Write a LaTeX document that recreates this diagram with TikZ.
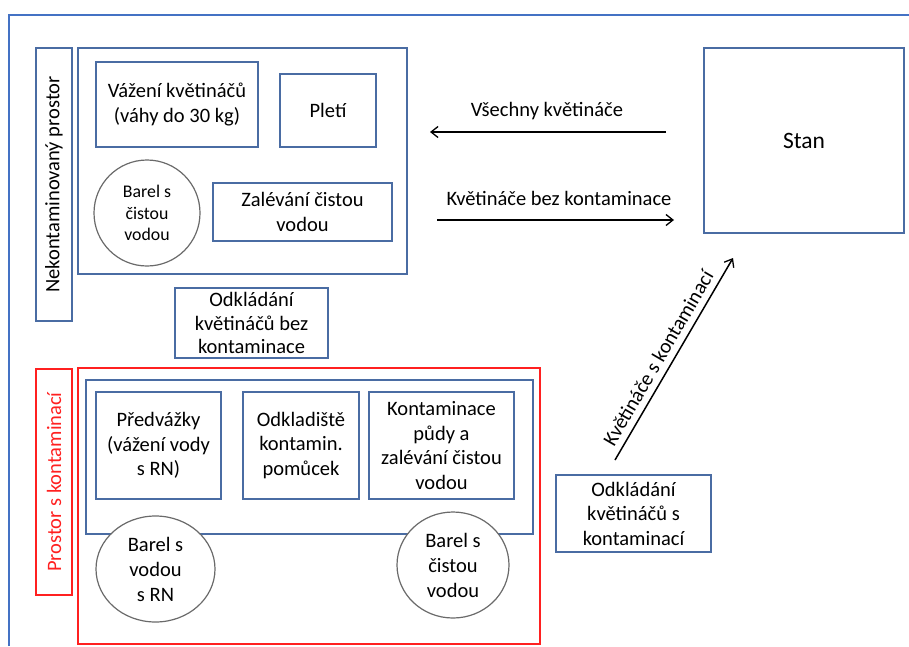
\documentclass[tikz,border=0pt]{standalone}
\usepackage{fontspec}
\setmainfont{Carlito}
\usetikzlibrary{shapes.geometric,arrows.meta}
\definecolor{frameblue}{HTML}{4472C4}
\definecolor{boxblue}{HTML}{4A6CA3}
\definecolor{circgray}{HTML}{6A6A6A}
\definecolor{redline}{HTML}{FF2020}
\tikzset{
  bx/.style={draw=boxblue, line width=1.2pt, rectangle, align=center, inner sep=0pt,
    font=\fontsize{20.5}{24.5}\selectfont},
  rbx/.style={draw=redline, line width=1.2pt, rectangle, inner sep=0pt},
  barrel/.style={draw=circgray, line width=1.2pt, fill=white, ellipse, align=center, inner sep=0pt,
    font=\fontsize{20.5}{25}\selectfont},
  flow/.style={line width=1.5pt, -{Straight Barb[length=7pt,width=11pt,line width=1.3pt]}},
  lbl/.style={font=\fontsize{20.5}{24}\selectfont},
}
\begin{document}
\begin{tikzpicture}[x=1pt,y=-1pt]
\useasboundingbox (0,0) rectangle (909,646);
% outer frame
\draw[frameblue, line width=2pt] (9,646) -- (9,15) -- (909,15);
% non-contaminated area
\node[bx, minimum width=36pt, minimum height=273pt] (nek) at (54,184.5) {};
\node[rotate=90, lbl] (nektxt) at (nek.center) {Nekontaminovaný prostor};
\node[bx, minimum width=329pt, minimum height=226pt] (upper) at (242.5,161) {};
\node[bx, minimum width=162pt, minimum height=85pt] (vaz) at (177,104.5) {Vážení květináčů\\(váhy do 30 kg)};
\node[bx, minimum width=96pt, minimum height=73pt] (plet) at (328,110.5) {Pletí};
\node[barrel, minimum width=106pt, minimum height=106pt, font=\fontsize{17.8}{21.5}\selectfont] (barel1) at (147,213) {Barel s\\čistou\\vodou};
\node[bx, minimum width=179pt, minimum height=58pt] (zal) at (302.5,212) {Zalévání čistou\\vodou};
\node[bx, minimum width=153pt, minimum height=70pt, font=\fontsize{20.5}{23.5}\selectfont] (odkbez) at (251.5,323) {Odkládání\\květináčů bez\\kontaminace};
% contaminated area
\node[rbx, minimum width=36pt, minimum height=226pt] (pros) at (54,482) {};
\node[rotate=90, text=redline, lbl] (prostxt) at (pros.center) {Prostor s kontaminací};
\node[rbx, minimum width=462pt, minimum height=276pt] (redbox) at (309,506) {};
\node[bx, minimum width=447pt, minimum height=154pt] (inner) at (309.5,457) {};
\node[bx, minimum width=125pt, minimum height=107pt] (pred) at (158.5,445.5) {Předvážky\\(vážení vody\\s RN)};
\node[bx, minimum width=116pt, minimum height=107pt] (odkl) at (301,445.5) {Odkladiště\\kontamin.\\pomůcek};
\node[bx, minimum width=145pt, minimum height=107pt] (kont) at (441.5,445.5) {Kontaminace\\půdy a\\zalévání čistou\\vodou};
\node[barrel, minimum width=119pt, minimum height=106pt] (barel2) at (155.5,569) {Barel s\\vodou\\s RN};
\node[barrel, minimum width=112pt, minimum height=106pt] (barel3) at (453,565) {Barel s\\čistou\\vodou};
\node[bx, minimum width=155pt, minimum height=77pt] (odks) at (633.5,513.5) {Odkládání\\květináčů s\\kontaminací};
% tent
\node[bx, minimum width=200pt, minimum height=185pt, font=\fontsize{23.5}{28}\selectfont] (stan) at (804,140.5) {Stan};
% flows
\coordinate (a1s) at (666,132);
\coordinate (a1e) at (430,132);
\coordinate (a2s) at (437,220);
\coordinate (a2e) at (674,220);
\coordinate (a3s) at (615,460);
\coordinate (a3e) at (733,258);
\draw[flow] (a1s) -- (a1e);
\node[lbl] (l1) at (547,111) {Všechny květináče};
\draw[flow] (a2s) -- (a2e);
\node[lbl] (l2) at (559,198) {Květináče bez kontaminace};
\draw[flow] (a3s) -- node[lbl, pos=0.47, sloped, above=3pt] (l3) {Květináče s kontaminací} (a3e);
\end{tikzpicture}
\end{document}
